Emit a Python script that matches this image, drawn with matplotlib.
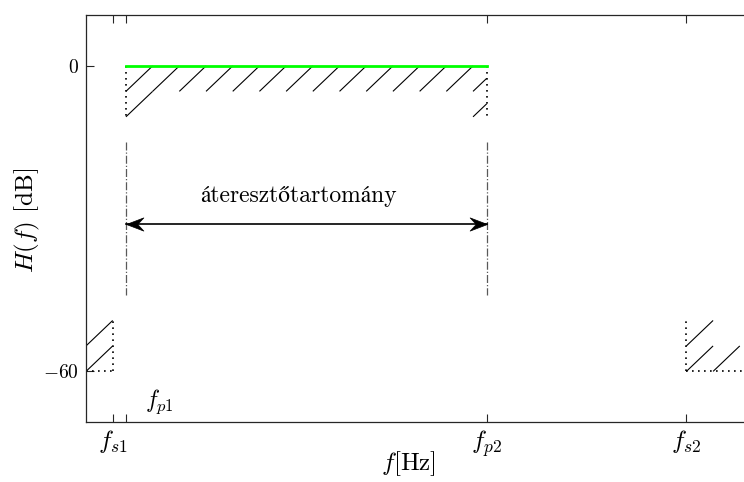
import numpy as np
import matplotlib
matplotlib.use('Agg')
import matplotlib.pyplot as plt
from matplotlib.path import Path

plt.rcParams['mathtext.fontset'] = 'cm'
plt.rcParams['font.family'] = ['cmr10', 'STIXGeneral', 'DejaVu Serif']
plt.rcParams['axes.unicode_minus'] = False
plt.rcParams['axes.formatter.use_mathtext'] = True

# ---- data ----
f_s1, f_p1, f_p2, f_s2 = 0.89, 1.0, 4.0, 5.66
f_min, f_max = 0.668, 6.455
pass_top, pass_bottom = 0, -10
stop_level, stop_top = -60, -50
y_min, y_max = -70, 10
yticks = [-60, 0]
ytick_labels = ['$-60$', '$0$']
xticks = [f_s1, f_p1, f_p2, f_s2]
xtick_labels = ['$f_{s1}$', '', '$f_{p2}$', '$f_{s2}$']
band_label = 'áteresztőtartomány'
fp1_label = '$f_{p1}$'
arrow_level = -31
marker_top, marker_bottom = -15, -45

# hatch cell geometry (style)
cell_w, cell_h = 0.222, 5.0

W, H = 744, 482
fig = plt.figure(figsize=(W / 100, H / 100), dpi=100)
ax_left, ax_right, ax_top, ax_bot = 86, 782, 15, 422.3
ax = fig.add_axes([ax_left / W, 1 - ax_bot / H, (ax_right - ax_left) / W, (ax_bot - ax_top) / H])
ax.set_xlim(f_min, f_max)
ax.set_ylim(y_min, y_max)


def hatch(x0, y0, cells, xmax=None):
    for c, r in cells:
        xa, ya = x0 + c * cell_w, y0 + r * cell_h
        xb, yb = xa + cell_w, ya + cell_h
        if xmax is not None and xb > xmax:
            yb = ya + (xmax - xa) / cell_w * cell_h
            xb = xmax
        ax.plot([xa, xb], [ya, yb], color='black', lw=0.8, solid_capstyle='butt')


# passband hatch
ncols = int(np.ceil((f_p2 - f_p1) / cell_w))
pass_cells = [(c, 1) for c in range(ncols)] + [(0, 0), (ncols - 1, 0)]
hatch(f_p1, pass_bottom, pass_cells, xmax=f_p2)
# left stopband hatch
hatch(f_s1 - cell_w, stop_level, [(0, 0), (0, 1)], xmax=f_s1)
# right stopband hatch
hatch(f_s2, stop_level, [(0, 0), (1, 0), (0, 1)])

dot = (0, (1, 2.6))
ax.plot([f_p1, f_p1], [pass_top, pass_bottom], color='black', lw=1.2, ls=dot)
ax.plot([f_p2, f_p2], [pass_top, pass_bottom], color='black', lw=1.2, ls=dot)
ax.plot([f_s1, f_s1], [stop_level, stop_top], color='black', lw=1.2, ls=dot)
ax.plot([f_min, f_s1], [stop_level, stop_level], color='black', lw=1.2, ls=dot)
ax.plot([f_s2, f_s2], [stop_level, stop_top], color='black', lw=1.2, ls=dot)
ax.plot([f_s2, f_max], [stop_level, stop_level], color='black', lw=1.2, ls=dot)

# passband green line
ax.plot([f_p1, f_p2], [pass_top, pass_top], color=(0, 1, 0), lw=2)

# dash-dot markers
for fx in (f_p1, f_p2):
    ax.plot([fx, fx], [marker_top, marker_bottom], color='0.35', lw=0.9, ls='-.')

# double arrow with stealth-like heads
ax.plot([f_p1, f_p2], [arrow_level, arrow_level], color='black', lw=1.2)
head_r = Path([(0, 0), (-1, 0.38), (-0.65, 0), (-1, -0.38), (0, 0)],
              [Path.MOVETO, Path.LINETO, Path.LINETO, Path.LINETO, Path.CLOSEPOLY])
head_l = Path([(0, 0), (1, 0.38), (0.65, 0), (1, -0.38), (0, 0)],
              [Path.MOVETO, Path.LINETO, Path.LINETO, Path.LINETO, Path.CLOSEPOLY])
ax.plot([f_p2], [arrow_level], marker=head_r, markersize=25, color='black', mew=0.5)
ax.plot([f_p1], [arrow_level], marker=head_l, markersize=25, color='black', mew=0.5)

ax.text((f_p1 + f_p2) / 2 - 0.064, -26.7, band_label, ha='center', va='baseline', fontsize=17)
ax.text(1.277, -66.0, fp1_label, ha='center', va='center', fontsize=17)

# ticks
ax.set_xticks(xticks)
ax.set_xticklabels(xtick_labels, fontsize=18)
ax.set_yticks(yticks)
ax.set_yticklabels(ytick_labels, fontsize=14)
ax.tick_params(direction='in', length=5.5, width=0.8, top=True, right=True, color='0.15')
ax.tick_params(axis='x', pad=4)
ax.tick_params(axis='y', pad=5)
for s in ax.spines.values():
    s.set_linewidth(0.9)
    s.set_color('0.15')

ax.set_ylabel('$H(f)$ [dB]', fontsize=18, va='center')
ax.set_xlabel('$f$[Hz]', fontsize=18, va='center')
axw, axh = ax_right - ax_left, ax_bot - ax_top
ax.yaxis.set_label_coords((27 - ax_left) / axw, (ax_bot - 220) / axh)
ax.xaxis.set_label_coords((408 - ax_left) / axw, (ax_bot - 464) / axh)

fig.savefig('out.png', dpi=100)
